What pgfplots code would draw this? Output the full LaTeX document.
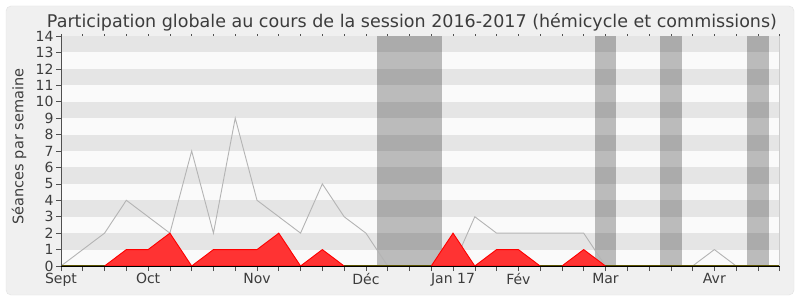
\documentclass[border=0pt]{standalone}
\usepackage{pgfplots}
\pgfplotsset{compat=1.18}
\usepackage{fontspec}
\setmainfont{DejaVu Sans}
\definecolor{bgbox}{HTML}{F0F0F0}
\definecolor{boxedge}{HTML}{E2E2E2}
\definecolor{stripeL}{HTML}{FAFAFA}
\definecolor{stripeD}{HTML}{E5E5E5}
\definecolor{redfill}{HTML}{FF3333}
\definecolor{grayline}{HTML}{B4B4B4}
\definecolor{axisdark}{HTML}{505050}
\definecolor{baseline}{HTML}{331A0A}
\definecolor{txt}{HTML}{3C3C3C}
\begin{document}
\begin{tikzpicture}[x=1bp,y=1bp]
\fill[white] (0,0) rectangle (800,300);
\useasboundingbox (0,0) rectangle (800,300);
\filldraw[fill=bgbox, draw=boxedge, rounded corners=5bp] (6,5) rectangle (794,294);
\node[anchor=base, text=txt] at (412,273) {\resizebox{730bp}{!}{\fontsize{17bp}{20bp}\selectfont Participation globale au cours de la session 2016-2017 (hémicycle et commissions)}};
\node[rotate=90, anchor=base, text=txt, font=\fontsize{14.5bp}{17bp}\selectfont] at (23.3,153.5) {Séances par semaine};
\begin{axis}[
  at={(61bp,34bp)}, anchor=origin,
  scale only axis, width=718.7bp, height=230bp,
  xmin=0, xmax=33, ymin=0, ymax=14,
  clip=false,
  axis line style={draw=none},
  xtick={0,...,33},
  xticklabels={Sept,,,,Oct,,,,,Nov,,,,,Déc,,,,Jan 17,,,Fév,,,,Mar,,,,,Avr,,,},
  ytick={0,...,14},
  xtick pos=left, ytick pos=left,
  tick align=outside,
  major tick length=5bp,
  x tick style={axisdark, line width=0.6bp},
  y tick style={axisdark, line width=0.6bp},
  ticklabel style={text=txt, font=\fontsize{14bp}{16bp}\selectfont},
  /pgf/number format/assume math mode=true,
  xticklabel style={yshift=1bp},
  yticklabel style={xshift=1bp},
]
% background stripes
\pgfplotsinvokeforeach{0,2,...,12}{
  \fill[stripeL] (axis cs:0,#1) rectangle (axis cs:33,#1+1);
  \fill[stripeD] (axis cs:0,#1+1) rectangle (axis cs:33,#1+2);
}
% vacation bands
\fill[black, opacity=0.25] (axis cs:14.5,0) rectangle (axis cs:17.5,14);
\fill[black, opacity=0.25] (axis cs:24.5,0) rectangle (axis cs:25.5,14);
\fill[black, opacity=0.25] (axis cs:27.5,0) rectangle (axis cs:28.5,14);
\fill[black, opacity=0.25] (axis cs:31.5,0) rectangle (axis cs:32.5,14);
% total line
\addplot[grayline, line width=0.9bp, mark=none] coordinates {
(0,0)(1,1)(2,2)(3,4)(4,3)(5,2)(6,7)(7,2)(8,9)(9,4)(10,3)(11,2)(12,5)(13,3)(14,2)(15,0)(16,0)(17,0)(18,0)(19,3)(20,2)(21,2)(22,2)(23,2)(24,2)(25,0)(26,0)(27,0)(28,0)(29,0)(30,1)(31,0)(32,0)(33,0)
};
% baseline green
\addplot[green!50!black, line width=1.2bp, mark=none] coordinates {(0,0)(33,0)};
% deputy participation
\addplot[draw=red, line width=0.9bp, fill=redfill, mark=none] coordinates {
(0,0)(1,0)(2,0)(3,1)(4,1)(5,2)(6,0)(7,1)(8,1)(9,1)(10,2)(11,0)(12,1)(13,0)(14,0)(15,0)(16,0)(17,0)(18,2)(19,0)(20,1)(21,1)(22,0)(23,0)(24,1)(25,0)(26,0)(27,0)(28,0)(29,0)(30,0)(31,0)(32,0)(33,0)
} \closedcycle;
% axis lines
\draw[baseline, line width=0.8bp] (axis cs:0,0) -- (axis cs:33,0);
\draw[axisdark, line width=0.8bp] (axis cs:0,0) -- (axis cs:0,14);
\draw[black!20, line width=0.7bp] (axis cs:33,0) -- (axis cs:33,14);
\pgfplotsinvokeforeach{0,...,33}{
  \draw[axisdark, line width=0.6bp] (axis cs:#1,14) -- ++(0,1.5bp);
}
\end{axis}
\end{tikzpicture}
\end{document}
